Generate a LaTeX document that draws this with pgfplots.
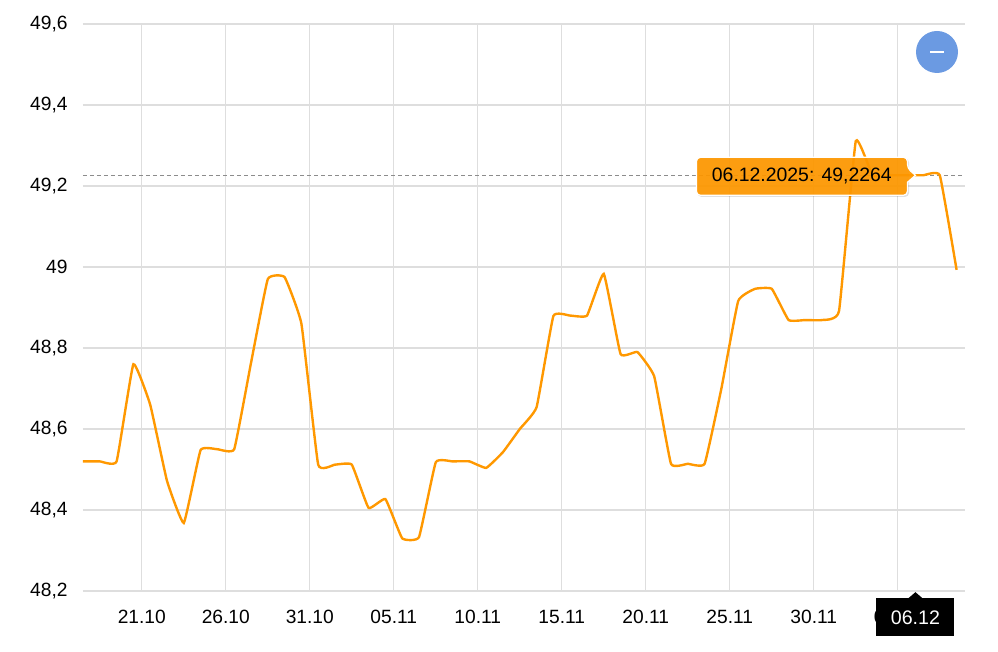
\documentclass[border=0pt]{standalone}
\usepackage{fontspec}
\setmainfont{Liberation Sans}
\usepackage{pgfplots}
\pgfplotsset{compat=1.18}
\usetikzlibrary{calc}
\definecolor{lineorange}{RGB}{255,152,0}
\definecolor{gridgray}{RGB}{222,222,222}
\definecolor{zoomblue}{RGB}{107,154,226}

\begin{document}
\begin{tikzpicture}
\useasboundingbox (-41.5pt,-30.5pt) rectangle (457.5pt,295.5pt);
\begin{axis}[
    scale only axis,
    width=441pt, height=283.5pt,
    xmin=-3.5, xmax=49,
    ymin=48.2, ymax=49.6,
    axis line style={draw=none},
    major tick length=0pt,
    grid=major,
    major grid style={gridgray, line width=0.6pt},
    xtick={0,5,10,15,20,25,30,35,40,45},
    xticklabels={21.10,26.10,31.10,05.11,10.11,15.11,20.11,25.11,30.11,05.12},
    ytick={48.2,48.4,48.6,48.8,49,49.2,49.4,49.6},
    /pgf/number format/use comma,
    /pgf/number format/assume math mode=true,
    tick label style={font=\fontsize{9.6}{11}\selectfont, text=black},
    yticklabel style={anchor=east, inner sep=0pt, xshift=-7.5pt},
    xticklabel style={anchor=north, inner sep=0pt, yshift=-9.6pt},
    clip=false,
]
% guide line at the hovered value
\addplot[draw=black!45, line width=0.5pt, dash pattern=on 2pt off 1.5pt] coordinates {(-3.5,49.2264) (49,49.2264)};

\addplot[lineorange, line width=1.2pt, smooth, tension=0.2] coordinates {
(-3.5,48.52) (-2.5,48.52) (-1.5,48.52) (-0.5,48.76) (0.5,48.66)
(1.5,48.472) (2.5,48.368) (3.5,48.548) (4.5,48.55) (5.5,48.55)
(6.5,48.763) (7.5,48.970) (8.5,48.975) (9.5,48.860) (10.5,48.512)
(11.5,48.512) (12.5,48.512) (13.5,48.405) (14.5,48.427) (15.5,48.330)
(16.5,48.333) (17.5,48.518) (18.5,48.520) (19.5,48.520) (20.5,48.504)
(21.5,48.543) (22.5,48.600) (23.5,48.654) (24.5,48.879) (25.5,48.880)
(26.5,48.880) (27.5,48.983) (28.5,48.785) (29.5,48.790) (30.5,48.730)
(31.5,48.514) (32.5,48.514) (33.5,48.514) (34.5,48.700) (35.5,48.916)
(36.5,48.946) (37.5,48.946) (38.5,48.869) (39.5,48.869) (40.5,48.869)
(41.5,48.891) (42.5,49.311) (43.5,49.2264) (44.5,49.2264) (45.5,49.2264)
(46.5,49.2264) (47.5,49.2264) (48.5,48.993)
};
\coordinate (tip) at (axis cs:46.05,49.2264);
\coordinate (bt) at (axis cs:46.05,48.2);
\end{axis}

% hover tooltip
\fill[black, opacity=0.12, rounded corners=2pt]
  ($(tip)+(-109pt,-10.8pt)$) rectangle ($(tip)+(-3.2pt,8.4pt)$);
\filldraw[fill=lineorange, fill opacity=0.93, draw=white, line width=0.6pt, rounded corners=2pt]
  ($(tip)+(-109.5pt,-10pt)$) -- ($(tip)+(-109.5pt,9pt)$) -- ($(tip)+(-4pt,9pt)$)
  -- ($(tip)+(-4pt,3.5pt)$) [sharp corners] -- (tip) -- ($(tip)+(-4pt,-3.5pt)$) [rounded corners=2pt]
  -- ($(tip)+(-4pt,-10pt)$) -- cycle;
\node[text=black, font=\fontsize{9.7}{11}\selectfont, inner sep=0pt] at ($(tip)+(-56.8pt,-0.4pt)$) {06.12.2025: 49,2264};

% x crosshair label
\fill[black] ($(bt)+(-19.5pt,-3.5pt)$) rectangle ($(bt)+(19.5pt,-22.5pt)$);
\fill[black] ($(bt)+(-3.5pt,-3.6pt)$) -- ($(bt)+(0pt,-0.6pt)$) -- ($(bt)+(3.5pt,-3.6pt)$) -- cycle;
\node[text=white, font=\fontsize{9.8}{11}\selectfont, inner sep=0pt] at ($(bt)+(0pt,-13.2pt)$) {06.12};

% zoom reset button
\fill[zoomblue] (427pt,269.5pt) circle (10.5pt);
\draw[white, line width=0.8pt] (423.7pt,269.5pt) -- (430.3pt,269.5pt);
\end{tikzpicture}
\end{document}
